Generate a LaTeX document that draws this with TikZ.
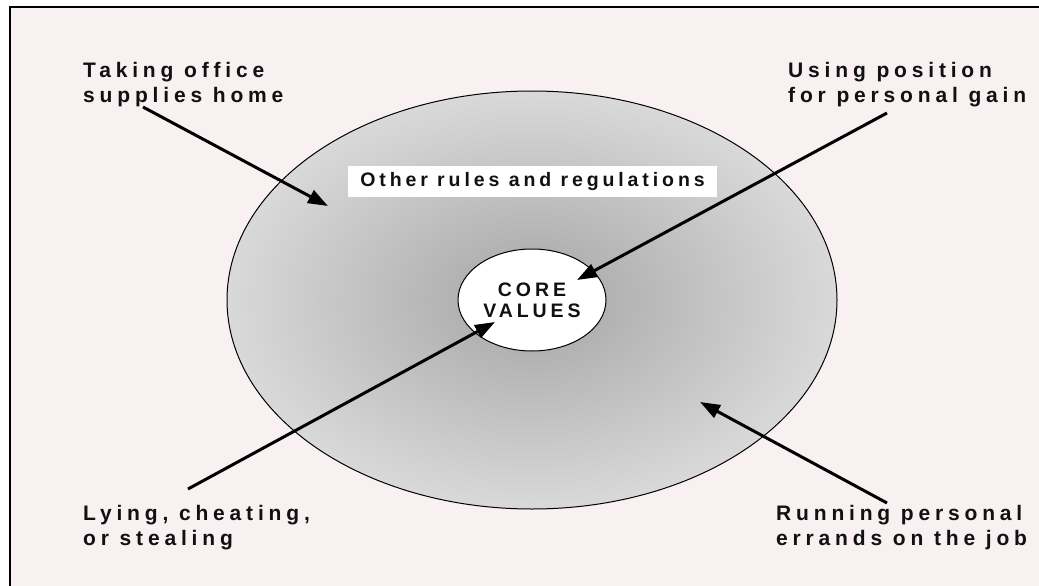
\documentclass[tikz,border=0pt]{standalone}
\usepackage{fontspec}
\usetikzlibrary{arrows.meta,shapes.geometric}
\newfontfamily\lblfont{Liberation Sans}[LetterSpace=20]
\newfontfamily\capfont{Liberation Sans}[LetterSpace=23]
\definecolor{paper}{RGB}{249,240,241}
\definecolor{ink}{RGB}{17,17,17}
\definecolor{shadein}{RGB}{165,165,165}
\definecolor{shadeout}{RGB}{217,217,217}
\begin{document}
\begin{tikzpicture}[x=1pt,y=-1pt,
  caption/.style={font=\capfont\bfseries\fontsize{21}{25}\selectfont,
    text=ink, align=left, inner sep=0pt, anchor=north west},
  pointer/.style={line width=3pt, draw=black,
    -{Triangle[length=20pt,width=14pt]}},
  ring/.style={ellipse, draw=black, line width=1pt, inner sep=0pt}
]
\useasboundingbox (0,0) rectangle (1039,586);
\fill[white] (0,0) rectangle (1039,586);
% framed sheet
\draw[line width=2pt, fill=paper] (10,7) rectangle (1052,599);

% outer zone
\node[ring, minimum width=610pt, minimum height=418pt,
  shade, inner color=shadein, outer color=shadeout] (rules) at (532,300) {};
\node[fill=white, minimum width=369pt, minimum height=31pt, inner sep=0pt,
  text=ink, font=\lblfont\bfseries\fontsize{19.5}{21}\selectfont]
  (other) at (532.5,181.5) {Other rules and regulations};

% inner core
\node[ring, fill=white, minimum width=148pt, minimum height=102pt,
  align=center, text=ink, font=\lblfont\bfseries\fontsize{19.5}{21}\selectfont]
  (core) at (532,300) {CORE\\VALUES};

% captions
\node[caption] (supplies) at (83,62.5) {Taking office\\supplies home};
\node[caption] (gain) at (788,62.5) {Using position\\for personal gain};
\node[caption] (lying) at (83,505) {Lying, cheating,\\or stealing};
\node[caption] (errands) at (776,505) {Running personal\\errands on the job};

% pointers
\coordinate (s1) at (143,107);  \coordinate (e1) at (328,206);
\coordinate (s2) at (887,113);  \coordinate (e2) at (577,280);
\coordinate (s3) at (188,489);  \coordinate (e3) at (495,322);
\coordinate (s4) at (887,503);  \coordinate (e4) at (700,402);
\draw[pointer] (s1) -- (e1);
\draw[pointer] (s2) -- (e2);
\draw[pointer] (s3) -- (e3);
\draw[pointer] (s4) -- (e4);
\end{tikzpicture}
\end{document}
